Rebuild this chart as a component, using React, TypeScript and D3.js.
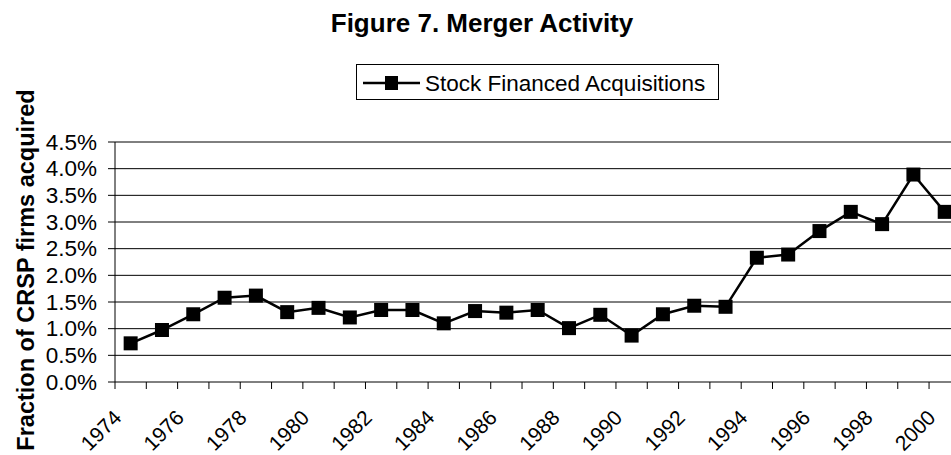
import * as d3 from "d3";

const years = [
  1974, 1975, 1976, 1977, 1978, 1979, 1980, 1981, 1982, 1983, 1984, 1985, 1986,
  1987, 1988, 1989, 1990, 1991, 1992, 1993, 1994, 1995, 1996, 1997, 1998, 1999, 2000,
];
const stockFinanced = [
  0.725, 0.975, 1.27, 1.58, 1.62, 1.31, 1.39, 1.21, 1.35, 1.35, 1.1, 1.33, 1.3,
  1.35, 1.01, 1.26, 0.87, 1.27, 1.43, 1.41, 2.33, 2.39, 2.83, 3.19, 2.96, 3.89, 3.19,
];
const yTicks = [0, 0.5, 1.0, 1.5, 2.0, 2.5, 3.0, 3.5, 4.0, 4.5];
const xTickLabels = [1974, 1976, 1978, 1980, 1982, 1984, 1986, 1988, 1990, 1992, 1994, 1996, 1998, 2000];

const width = 951;
const height = 455;
const font = "'Liberation Sans', Arial, sans-serif";

export default function App() {
  const plot = { left: 115, top: 142, bottom: 382, band: 31.31 };
  // plot runs past the right edge of the picture, as in the original
  const right = plot.left + plot.band * years.length;

  const x = d3.scaleBand<number>().domain(years).range([plot.left, right]).padding(0);
  const y = d3.scaleLinear().domain([0, 4.5]).range([plot.bottom, plot.top]);
  const cx = (yr: number) => (x(yr) ?? 0) + x.bandwidth() / 2;

  const data = years.map((yr, i) => ({ yr, v: stockFinanced[i] }));
  const line = d3
    .line<{ yr: number; v: number }>()
    .x((d) => cx(d.yr))
    .y((d) => y(d.v));

  const boundaries = [...years.map((yr) => x(yr) ?? 0), right];

  return (
    <svg
      width={width}
      height={height}
      style={{ position: "absolute", left: 0, top: 0, background: "#fff", fontFamily: font }}
    >
      <text x={482} y={32} textAnchor="middle" fontSize={26} fontWeight="bold">
        Figure 7. Merger Activity
      </text>

      {/* legend */}
      <rect x={356.5} y={64.5} width={362} height={35} fill="#fff" stroke="#000" strokeWidth={1} />
      <line x1={363} x2={420} y1={83} y2={83} stroke="#000" strokeWidth={2.5} />
      <rect x={385} y={76} width={13} height={14} fill="#000" />
      <text x={425} y={91} fontSize={22.5}>
        Stock Financed Acquisitions
      </text>

      {/* gridlines */}
      {yTicks.map((t) => (
        <line key={t} x1={plot.left} x2={right} y1={y(t)} y2={y(t)} stroke="#000" strokeWidth={1} />
      ))}

      {/* y axis */}
      <line x1={plot.left} x2={plot.left} y1={plot.top} y2={plot.bottom} stroke="#000" strokeWidth={1} />
      {yTicks.map((t) => (
        <g key={t}>
          <line x1={plot.left - 7} x2={plot.left} y1={y(t)} y2={y(t)} stroke="#000" />
          <text x={97} y={y(t)} textAnchor="end" dominantBaseline="central" fontSize={22.5}>
            {t.toFixed(1)}%
          </text>
        </g>
      ))}
      <text
        transform={`translate(34,${270}) rotate(-90)`}
        textAnchor="middle"
        fontSize={23.5}
        fontWeight="bold"
      >
        Fraction of CRSP firms acquired
      </text>

      {/* x axis */}
      {boundaries.map((bx, i) => (
        <line key={i} x1={bx} x2={bx} y1={plot.bottom} y2={plot.bottom + 7} stroke="#000" />
      ))}
      {xTickLabels.map((yr) => (
        <text
          key={yr}
          transform={`translate(${cx(yr) - 8},419) rotate(-45)`}
          textAnchor="end"
          fontSize={21}
        >
          {yr}
        </text>
      ))}

      {/* series */}
      <path d={line(data) ?? ""} fill="none" stroke="#000" strokeWidth={2.5} />
      {data.map((d) => (
        <rect key={d.yr} x={cx(d.yr) - 7} y={y(d.v) - 7} width={14} height={14} fill="#000" />
      ))}
    </svg>
  );
}
